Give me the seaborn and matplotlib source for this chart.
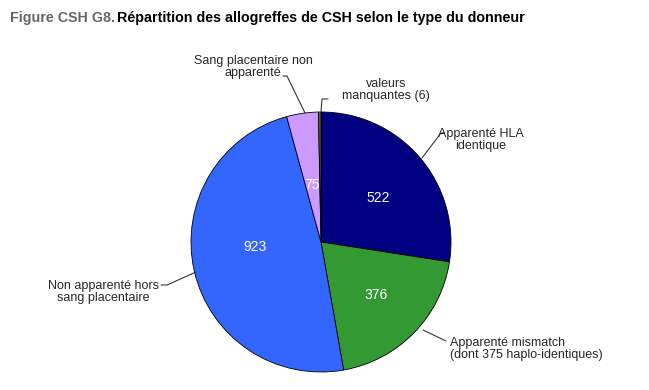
import matplotlib
matplotlib.use("Agg")
import matplotlib.pyplot as plt
import seaborn as sns

# -----------------------------
# Data
# -----------------------------
categories = [
    "Apparenté HLA identique",
    "Apparenté mismatch (dont 375 haplo-identiques)",
    "Non apparenté hors sang placentaire",
    "Sang placentaire non apparenté",
    "valeurs manquantes (6)",
]
counts = [522, 376, 923, 75, 6]
colors = ["#000080", "#339933", "#3366FF", "#CC99FF", "#666633"]

sns.set_style("white")
plt.rcParams["font.family"] = ["Liberation Sans", "DejaVu Sans"]

# -----------------------------
# Figure (axes in pixel units, y upward)
# -----------------------------
W, H = 649, 390
fig = plt.figure(figsize=(W / 100, H / 100), dpi=100)
ax = fig.add_axes([0, 0, 1, 1])

cx, cy, r = 321, H - 242, 130
wedges, _ = ax.pie(
    counts,
    colors=colors,
    startangle=90,
    counterclock=False,
    center=(cx, cy),
    radius=r,
    wedgeprops=dict(edgecolor="black", linewidth=0.6),
)
ax.set_xlim(0, W)
ax.set_ylim(0, H)
ax.set_aspect("equal")
ax.axis("off")


def py(y):
    return H - y


# value labels inside slices
value_pos = [(378, 198), (376, 295), (255, 247), (312, 185)]
for v, (x, y) in zip(counts[:4], value_pos):
    ax.text(x, py(y), str(v), color="white", fontsize=10,
            ha="center", va="center")

# outside labels with leader lines
lw = 0.8
ax.plot([445, 441, 422], [py(133), py(133), py(158)], color="#333333", lw=lw)
ax.text(481, py(140), "Apparenté HLA\nidentique", fontsize=9, ha="center",
        va="center", linespacing=1.05)

ax.plot([423, 446], [py(330), py(341)], color="#333333", lw=lw)
ax.text(450, py(349), "Apparenté mismatch\n(dont 375 haplo-identiques)",
        fontsize=9, ha="left", va="center", linespacing=1.05)

ax.plot([161, 167, 196], [py(285), py(285), py(272)], color="#333333", lw=lw)
ax.text(103, py(292), "Non apparenté hors\nsang placentaire", fontsize=9,
        ha="center", va="center", linespacing=1.05)

ax.plot([283, 287, 305], [py(76), py(76), py(113)], color="#333333", lw=lw)
ax.text(253, py(67), "Sang placentaire non\napparenté", fontsize=9,
        ha="center", va="center", linespacing=1.05)

ax.plot([321, 322, 328], [py(112), py(99), py(99)], color="#333333", lw=lw)
ax.text(386, py(90), "valeurs\nmanquantes (6)", fontsize=9, ha="center",
        va="center", linespacing=1.05)

# title
fig.text(10 / W, 1 - 18 / H, "Figure CSH G8.", color="#666666",
         fontsize=10.3, fontweight="bold", ha="left", va="center")
fig.text(117 / W, 1 - 18 / H,
         "Répartition des allogreffes de CSH selon le type du donneur",
         color="black", fontsize=10.3, fontweight="bold", ha="left", va="center")

fig.savefig("out.png", dpi=100)
